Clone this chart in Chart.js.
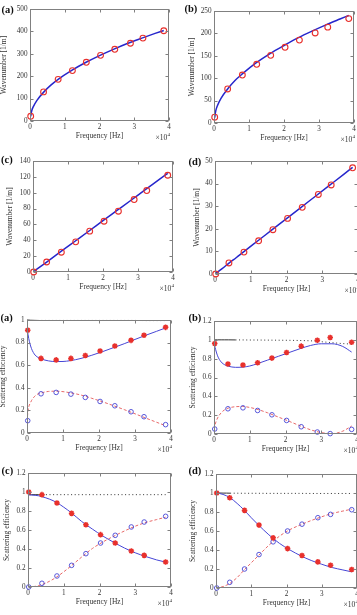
<!DOCTYPE html>
<html>
<head>
<meta charset="utf-8">
<script src="https://cdn.jsdelivr.net/npm/chart.js@4.4.1/dist/chart.umd.min.js"></script>
<style>
  html, body { margin: 0; padding: 0; background: #fff; }
  body { width: 357px; height: 615px; overflow: hidden; position: relative; }
  .plot { position: absolute; }
  .plot canvas { display: block; }
  .tag { position: absolute; font: bold 10.5px "Liberation Serif", serif; color: #111; line-height: 11px; white-space: nowrap; }
</style>
</head>
<body>
<script>
// ---- data ----
const markerHz = [200, 3900, 8100, 12200, 16200, 20300, 24400, 28900, 32500, 38500];
const xTickHz = [0, 10000, 20000, 30000, 40000];

// wavenumber, symbols
const waveMeasA = [21, 130, 186, 225, 262, 293, 320, 347, 370, 403];
const waveMeasB = [13, 76, 107, 131, 151, 169, 185, 201, 214, 233];
const waveMeasC = [0, 12.6, 25, 38, 51.5, 64, 76.7, 91.4, 102.7, 122];
const waveMeasD = [0, 4.9, 9.7, 14.7, 19.6, 24.6, 29.5, 35.2, 39.4, 47];

// wavenumber, solid curve
const waveCurveHz = [200, 500, 1000, 2000, 4000, 6000, 8000, 12000, 16000, 20000, 24000, 28000, 32000, 36000, 38500];
const waveCurveA = [21, 46, 65, 92, 130, 160, 185, 226, 261, 292, 320, 346, 369, 391, 404];
const waveCurveB = [12, 27, 39, 55, 77, 95, 109, 134, 155, 173, 190, 205, 219, 232, 240];
const waveCurveC = [0.6, 1.6, 3.2, 6.5, 12.9, 19.4, 25.9, 38.8, 51.7, 64.7, 77.6, 90.5, 103.5, 116.4, 124.5];
const waveCurveD = [0.2, 0.6, 1.2, 2.4, 4.9, 7.3, 9.8, 14.7, 19.6, 24.5, 29.4, 34.3, 39.2, 44.1, 47.2];

const yTicksWaveA = [0, 100, 200, 300, 400, 500];
const yTicksWaveB = [0, 50, 100, 150, 200, 250];
const yTicksWaveC = [0, 20, 40, 60, 80, 100, 120, 140];
const yTicksWaveD = [0, 10, 20, 30, 40, 50];

// scattering efficiency, curves
const effCurveHz = [0, 300, 1000, 2000, 3000, 4000, 6000, 8000, 10000, 12000, 15000, 18000, 21000, 24000, 27000, 30000, 33000, 36000, 38500];
const reflA = [0.95, 0.87, 0.77, 0.70, 0.67, 0.655, 0.638, 0.632, 0.633, 0.64, 0.66, 0.688, 0.72, 0.755, 0.79, 0.828, 0.865, 0.9, 0.93];
const transA = [0.1, 0.2, 0.27, 0.32, 0.345, 0.355, 0.368, 0.37, 0.366, 0.356, 0.336, 0.307, 0.276, 0.242, 0.207, 0.17, 0.132, 0.095, 0.065];
const totalA = [1.0, 1.0, 0.998, 0.997, 0.996, 0.996, 0.996, 0.996, 0.996, 0.996, 0.996, 0.996, 0.996, 0.996, 0.996, 0.996, 0.995, 0.995, 0.995];
const reflB = [0.97, 0.92, 0.83, 0.765, 0.735, 0.72, 0.708, 0.71, 0.722, 0.745, 0.785, 0.825, 0.865, 0.905, 0.94, 0.958, 0.958, 0.93, 0.87];
const transB = [0.05, 0.1, 0.17, 0.225, 0.258, 0.275, 0.29, 0.292, 0.282, 0.263, 0.225, 0.18, 0.135, 0.088, 0.045, 0.015, 0.004, 0.03, 0.085];
const totalB = [1.0, 1.0, 1.0, 1.0, 1.0, 1.0, 0.999, 0.999, 0.998, 0.998, 0.997, 0.996, 0.995, 0.993, 0.99, 0.98, 0.97, 0.96, 0.955];
const reflC = [0.97, 0.97, 0.968, 0.965, 0.96, 0.95, 0.925, 0.89, 0.84, 0.785, 0.69, 0.61, 0.535, 0.47, 0.41, 0.36, 0.32, 0.285, 0.262];
const transC = [0, 0, 0.002, 0.007, 0.015, 0.027, 0.06, 0.105, 0.16, 0.22, 0.315, 0.405, 0.475, 0.535, 0.59, 0.64, 0.68, 0.71, 0.735];
const totalC = [0.975, 0.972, 0.972, 0.972, 0.972, 0.972, 0.972, 0.972, 0.972, 0.972, 0.972, 0.972, 0.972, 0.972, 0.972, 0.972, 0.972, 0.972, 0.972];
const reflD = [1.0, 0.998, 0.995, 0.985, 0.97, 0.95, 0.89, 0.82, 0.74, 0.665, 0.56, 0.47, 0.4, 0.34, 0.29, 0.25, 0.215, 0.19, 0.17];
const transD = [0, 0.001, 0.005, 0.015, 0.03, 0.05, 0.11, 0.19, 0.265, 0.34, 0.45, 0.545, 0.615, 0.665, 0.71, 0.75, 0.785, 0.81, 0.83];
const totalD = [1.0, 1.0, 1.0, 0.999, 0.999, 0.998, 0.998, 0.997, 0.997, 0.997, 0.996, 0.996, 0.996, 0.996, 0.995, 0.995, 0.995, 0.995, 0.995];

// scattering efficiency, symbols
const starA = [0.91, 0.66, 0.647, 0.66, 0.686, 0.726, 0.77, 0.82, 0.865, 0.935];
const circA = [0.109, 0.347, 0.359, 0.344, 0.315, 0.279, 0.241, 0.188, 0.144, 0.074];
const starB = [0.96, 0.743, 0.732, 0.757, 0.806, 0.866, 0.933, 0.996, 1.025, 0.975];
const circB = [0.053, 0.268, 0.278, 0.25, 0.204, 0.144, 0.077, 0.021, 0.004, 0.049];
const starC = [1.0, 0.972, 0.884, 0.775, 0.656, 0.551, 0.463, 0.379, 0.333, 0.263];
const circC = [0.0, 0.039, 0.116, 0.228, 0.351, 0.463, 0.544, 0.632, 0.684, 0.744];
const starD = [1.0, 0.95, 0.817, 0.662, 0.528, 0.415, 0.342, 0.275, 0.239, 0.194];
const circD = [0, 0.06, 0.2, 0.352, 0.486, 0.6, 0.672, 0.74, 0.775, 0.824];

const yTicksEff10 = [0, 0.2, 0.4, 0.6, 0.8, 1];
const yTicksEff12 = [0, 0.2, 0.4, 0.6, 0.8, 1, 1.2];

// ---- look ----
const FONT = '"Liberation Serif", serif';
const INK = '#333';
const AXIS = '#808080';
const BLUE = '#2626cc';
const BLUE2 = '#4646d6';
const RED = '#e8302c';
const RED2 = '#e86868';

// plot boxes in page pixels (left, top, right, bottom), y-title offset, tag position
const panels = [
  { kind: 'wave', L: 30, T: 9, R: 169, B: 121, tOff: 25, tag: '(a)', tx: 1.5, ty: 4, yTicks: yTicksWaveA, title: 'Wavenumber [1/m]', meas: waveMeasA, curve: waveCurveA },
  { kind: 'wave', L: 214, T: 11, R: 354, B: 123, tOff: 21.5, tag: '(b)', tx: 184.5, ty: 3, yTicks: yTicksWaveB, title: 'Wavenumber [1/m]', meas: waveMeasB, curve: waveCurveB },
  { kind: 'wave', L: 33, T: 161, R: 173, B: 272, tOff: 22, tag: '(c)', tx: 1, ty: 154, yTicks: yTicksWaveC, title: 'Wavenumber [1/m]', meas: waveMeasC, curve: waveCurveC },
  { kind: 'wave', L: 215, T: 161, R: 358, B: 274, tOff: 17.5, tag: '(d)', tx: 188.5, ty: 156, yTicks: yTicksWaveD, title: 'Wavenumber [1/m]', meas: waveMeasD, curve: waveCurveD },
  { kind: 'eff', L: 27, T: 320, R: 171, B: 433, tOff: 23, tag: '(a)', tx: 0.5, ty: 311.5, yTicks: yTicksEff10, solidTo: 3000, refl: reflA, trans: transA, total: totalA, star: starA, circ: circA },
  { kind: 'eff', L: 214, T: 321, R: 357, B: 434, tOff: 20.5, tag: '(b)', tx: 188.5, ty: 311.5, yTicks: yTicksEff12, solidTo: 6000, refl: reflB, trans: transB, total: totalB, star: starB, circ: circB },
  { kind: 'eff', L: 28, T: 473, R: 171, B: 587, tOff: 20.5, tag: '(c)', tx: 1.5, ty: 464.5, yTicks: yTicksEff12, solidTo: 4000, refl: reflC, trans: transC, total: totalC, star: starC, circ: circC },
  { kind: 'eff', L: 216, T: 474, R: 357, B: 588, tOff: 22.5, tag: '(d)', tx: 188.5, ty: 464.5, yTicks: yTicksEff12, solidTo: 5000, refl: reflD, trans: transD, total: totalD, star: starD, circ: circD }
];

const pts = (xs, ys) => xs.map((x, i) => ({ x, y: ys[i] }));

// box, inward ticks on all four sides and the x10^4 factor
const framePlugin = {
  id: 'frame',
  afterDatasetsDraw(chart) {
    const { ctx, chartArea: a, scales } = chart;
    const l = Math.round(a.left) + 0.5, r = Math.round(a.right) - 0.5;
    const t = Math.round(a.top) + 0.5, b = Math.round(a.bottom) - 0.5;
    ctx.save();
    ctx.strokeStyle = AXIS;
    ctx.lineWidth = 1;
    ctx.strokeRect(l, t, r - l, b - t);
    ctx.beginPath();
    scales.x.ticks.forEach(tk => {
      const x = Math.round(scales.x.getPixelForValue(tk.value)) + 0.5;
      ctx.moveTo(x, b); ctx.lineTo(x, b - 3);
      ctx.moveTo(x, t); ctx.lineTo(x, t + 3);
    });
    scales.y.ticks.forEach(tk => {
      const y = Math.round(scales.y.getPixelForValue(tk.value)) + 0.5;
      ctx.moveTo(l, y); ctx.lineTo(l + 3, y);
      ctx.moveTo(r, y); ctx.lineTo(r - 3, y);
    });
    ctx.stroke();
    ctx.fillStyle = INK;
    ctx.textAlign = 'right';
    ctx.textBaseline = 'alphabetic';
    ctx.font = '5px ' + FONT;
    ctx.fillText('4', a.right + 1, a.bottom + 15);
    const w = ctx.measureText('4').width;
    ctx.font = '7.5px ' + FONT;
    ctx.fillText('\u00d710', a.right + 1 - w - 0.3, a.bottom + 18.5);
    ctx.restore();
  }
};

function makePanel(p) {
  const W = Math.round(p.tOff + 4.5), H = 20, padL = 2, padT = 8, padR = 10, padB = 4;
  const cw = W + padL + (p.R - p.L) + padR;
  const ch = padT + (p.B - p.T) + H + padB;
  const box = document.createElement('div');
  box.className = 'plot';
  box.style.left = (p.L - W - padL) + 'px';
  box.style.top = (p.T - padT) + 'px';
  const cv = document.createElement('canvas');
  cv.width = cw; cv.height = ch;
  box.appendChild(cv);
  document.body.appendChild(box);

  const tag = document.createElement('div');
  tag.className = 'tag';
  tag.style.left = p.tx + 'px';
  tag.style.top = p.ty + 'px';
  tag.textContent = p.tag;
  document.body.appendChild(tag);

  let datasets;
  if (p.kind === 'wave') {
    datasets = [
      { data: pts(markerHz, p.meas), showLine: false, pointStyle: 'circle', pointRadius: 2.9,
        borderColor: RED, backgroundColor: 'rgba(0,0,0,0)', pointBorderWidth: 1.1, clip: false, order: 1 },
      { data: pts(waveCurveHz, p.curve), showLine: true, borderColor: BLUE, borderWidth: 1.5,
        pointRadius: 0, cubicInterpolationMode: 'monotone', order: 2 }
    ];
  } else {
    datasets = [
      { data: pts(markerHz, p.star), showLine: false, pointStyle: 'star', pointRadius: 2.8,
        borderColor: RED, backgroundColor: RED, pointBorderWidth: 1.5, clip: false, order: 1 },
      { data: pts(markerHz, p.circ), showLine: false, pointStyle: 'circle', pointRadius: 2.3,
        borderColor: BLUE2, backgroundColor: 'rgba(0,0,0,0)', pointBorderWidth: 0.9, clip: false, order: 2 },
      { data: pts(effCurveHz, p.refl), showLine: true, borderColor: BLUE2, borderWidth: 1,
        pointRadius: 0, cubicInterpolationMode: 'monotone', order: 3 },
      { data: pts(effCurveHz, p.trans), showLine: true, borderColor: RED2, borderWidth: 1, borderDash: [3, 2],
        pointRadius: 0, cubicInterpolationMode: 'monotone', order: 4 },
      { data: pts(effCurveHz, p.total), showLine: true, borderColor: '#333', borderWidth: 1,
        pointRadius: 0, tension: 0, clip: false, order: 5,
        segment: { borderDash: c => (c.p1.parsed.x <= p.solidTo ? undefined : [1, 2.6]) } }
    ];
  }

  const tickFont = { family: FONT, size: 7.2 };
  new Chart(cv, {
    type: 'scatter',
    data: { datasets },
    plugins: [framePlugin],
    options: {
      responsive: false,
      animation: false,
      devicePixelRatio: 1,
      layout: { padding: { left: padL, top: padT, right: padR, bottom: padB } },
      plugins: { legend: { display: false }, tooltip: { enabled: false } },
      scales: {
        x: {
          type: 'linear', min: 0, max: 40000,
          afterBuildTicks: s => { s.ticks = xTickHz.map(v => ({ value: v })); },
          afterFit: s => { s.height = H; },
          grid: { display: false, drawTicks: false },
          border: { display: false },
          ticks: { font: tickFont, color: INK, padding: 2, maxRotation: 0, autoSkip: false,
                   callback: v => String(v / 10000) },
          title: { display: true, text: 'Frequency [Hz]', font: { family: FONT, size: 7.5 }, color: INK, padding: 0 }
        },
        y: {
          type: 'linear', min: 0, max: p.yTicks[p.yTicks.length - 1],
          afterBuildTicks: s => { s.ticks = p.yTicks.map(v => ({ value: v })); },
          afterFit: s => { s.width = W; },
          grid: { display: false, drawTicks: false },
          border: { display: false },
          ticks: { font: tickFont, color: INK, padding: 2.5, autoSkip: false,
                   callback: v => String(Math.round(v * 10) / 10) },
          title: { display: true, text: p.kind === 'wave' ? p.title : 'Scattering efficiency',
                   font: { family: FONT, size: 7.5 }, color: INK, padding: 0 }
        }
      }
    }
  });
}

panels.forEach(makePanel);
</script>
</body>
</html>
